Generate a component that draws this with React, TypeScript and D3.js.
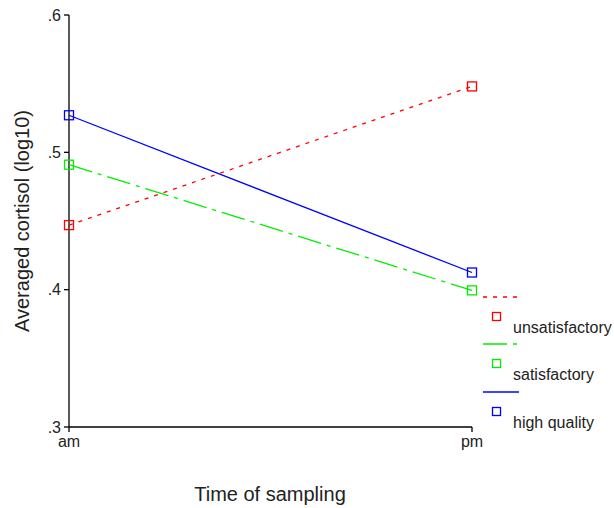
import React from "react";
import * as d3 from "d3";

const times = ["am", "pm"];
const seriesNames = ["unsatisfactory", "satisfactory", "high quality"];
const unsatisfactory = [0.447, 0.548];
const satisfactory = [0.491, 0.3995];
const highQuality = [0.527, 0.4125];
const yTicks = [0.3, 0.4, 0.5, 0.6];

const W = 614, H = 508;
const colors = ["#ff0000", "#00ee00", "#0000ff"];
const dashes = ["4,6", "24,6,4,6", null];

export default function App() {
  const x = d3.scalePoint<string>().domain(times).range([69, 472]);
  const y = d3.scaleLinear().domain([0.3, 0.6]).range([427, 15]);
  const data = [unsatisfactory, satisfactory, highQuality];
  const line = d3
    .line<number>()
    .x((_, i) => x(times[i]) as number)
    .y((d) => y(d));
  const font = "Liberation Sans, Arial, Helvetica, sans-serif";
  const legendY = [297, 344, 392];
  return (
    <svg
      width={W}
      height={H}
      style={{ position: "absolute", left: 0, top: 0, background: "#fff" }}
      fontFamily={font}
    >
      <rect width={W} height={H} fill="#fff" />
      {/* axes */}
      <line x1={69} x2={69} y1={y(0.6)} y2={y(0.3)} stroke="#000" strokeWidth={1.3} />
      <line x1={69} x2={472} y1={y(0.3)} y2={y(0.3)} stroke="#000" strokeWidth={1.3} />
      {yTicks.map((t) => (
        <g key={t}>
          <line x1={64} x2={69} y1={y(t)} y2={y(t)} stroke="#000" strokeWidth={1.3} />
          <text x={61} y={y(t)} dy="0.35em" textAnchor="end" fontSize={16} fill="#222">
            {d3.format(".1f")(t).replace(/^0/, "")}
          </text>
        </g>
      ))}
      {times.map((t) => (
        <g key={t}>
          <line x1={x(t)} x2={x(t)} y1={y(0.3)} y2={y(0.3) + 5} stroke="#000" strokeWidth={1.3} />
          <text x={x(t)} y={y(0.3) + 20} textAnchor="middle" fontSize={16} fill="#222">
            {t}
          </text>
        </g>
      ))}
      <text x={270} y={501} textAnchor="middle" fontSize={20} fill="#222">
        Time of sampling
      </text>
      <text
        transform={`translate(29,${221}) rotate(-90)`}
        textAnchor="middle"
        fontSize={20}
        fill="#222"
      >
        Averaged cortisol (log10)
      </text>
      {/* series */}
      {data.map((d, si) => (
        <g key={si}>
          <path
            d={line(d) as string}
            fill="none"
            stroke={colors[si]}
            strokeWidth={1.3}
            strokeDasharray={dashes[si] ?? undefined}
          />
          {d.map((v, i) => (
            <rect
              key={i}
              x={(x(times[i]) as number) - 4.5}
              y={y(v) - 4.5}
              width={9}
              height={9}
              fill="none"
              stroke={colors[si]}
              strokeWidth={1.3}
            />
          ))}
        </g>
      ))}
      {/* legend */}
      {seriesNames.map((n, si) => (
        <g key={n}>
          <line
            x1={483}
            x2={519}
            y1={legendY[si]}
            y2={legendY[si]}
            stroke={colors[si]}
            strokeWidth={1.3}
            strokeDasharray={dashes[si] ?? undefined}
          />
          <rect
            x={492.5}
            y={legendY[si] + 15.5}
            width={8}
            height={8}
            fill="none"
            stroke={colors[si]}
            strokeWidth={1.3}
          />
          <text x={513} y={legendY[si] + 36} fontSize={16} fill="#222">
            {n}
          </text>
        </g>
      ))}
    </svg>
  );
}
